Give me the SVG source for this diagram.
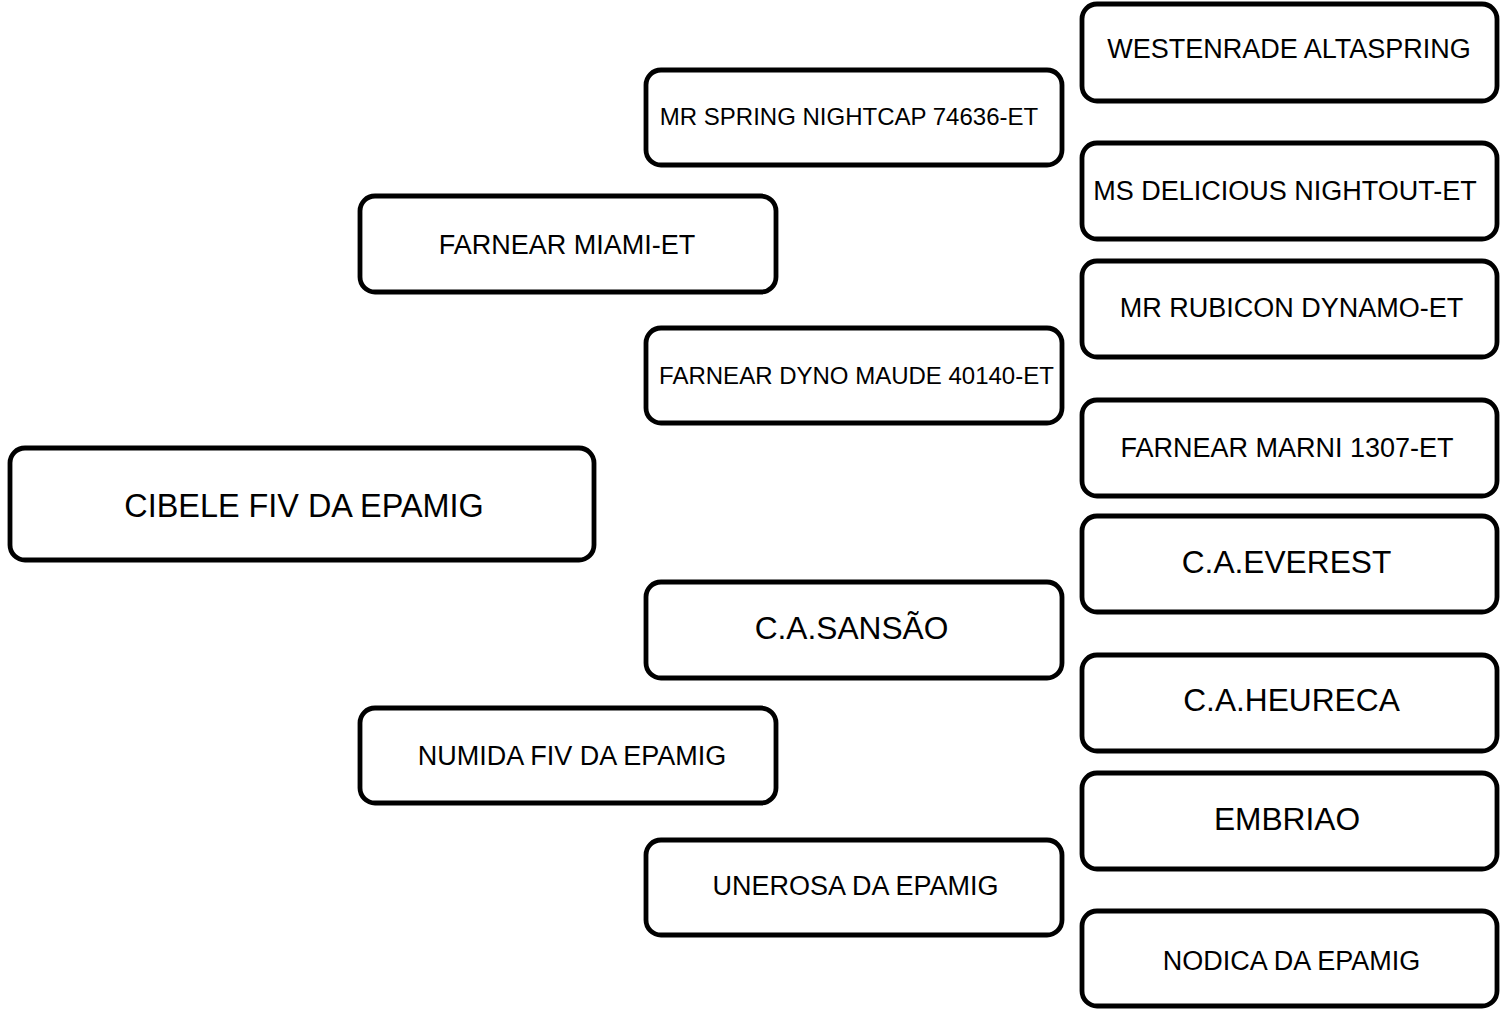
<svg xmlns="http://www.w3.org/2000/svg" width="1501" height="1009" viewBox="0 0 1501 1009">
<style>
.box{fill:#fff;stroke:#000;stroke-width:4.8}
text{font-family:"Liberation Sans",Arial,sans-serif;fill:#000;text-anchor:middle}
.s{font-size:27px}
.m{font-size:24px}
.l{font-size:31.7px}
.xl{font-size:32.4px}
</style>
<rect width="1501" height="1009" fill="#fff"/>
<g id="connectors"></g>
<g id="n-cibele"><rect class="box" x="10" y="448" width="584" height="112" rx="15"/><text class="xl" x="304" y="516.5">CIBELE FIV DA EPAMIG</text></g>
<g id="n-miami"><rect class="box" x="360" y="196" width="416" height="96" rx="15"/><text class="s" x="567" y="253.5">FARNEAR MIAMI-ET</text></g>
<g id="n-numida"><rect class="box" x="360" y="708" width="416" height="95" rx="15"/><text class="s" x="572" y="764.5">NUMIDA FIV DA EPAMIG</text></g>
<g id="n-nightcap"><rect class="box" x="646" y="70" width="416" height="95" rx="15"/><text class="m" x="849" y="124.6">MR SPRING NIGHTCAP 74636-ET</text></g>
<g id="n-dyno"><rect class="box" x="646" y="328" width="416" height="95" rx="15"/><text class="m" x="856.5" y="383.6">FARNEAR DYNO MAUDE 40140-ET</text></g>
<g id="n-sansao"><rect class="box" x="646" y="582" width="416" height="96" rx="15"/><text class="l" x="851.5" y="639.3">C.A.SANSÃO</text></g>
<g id="n-unerosa"><rect class="box" x="646" y="840" width="416" height="95" rx="15"/><text class="s" x="855.5" y="894.5">UNEROSA DA EPAMIG</text></g>
<g id="n-westenrade"><rect class="box" x="1082" y="4" width="415" height="97" rx="15"/><text class="s" x="1289" y="57.5">WESTENRADE ALTASPRING</text></g>
<g id="n-delicious"><rect class="box" x="1082" y="143" width="415" height="96" rx="15"/><text class="s" x="1285" y="199.5">MS DELICIOUS NIGHTOUT-ET</text></g>
<g id="n-rubicon"><rect class="box" x="1082" y="261" width="415" height="96" rx="15"/><text class="s" x="1291.5" y="316.5">MR RUBICON DYNAMO-ET</text></g>
<g id="n-marni"><rect class="box" x="1082" y="400" width="415" height="96" rx="15"/><text class="s" x="1287" y="456.5">FARNEAR MARNI 1307-ET</text></g>
<g id="n-everest"><rect class="box" x="1082" y="516" width="415" height="96" rx="15"/><text class="l" x="1286.5" y="573.3">C.A.EVEREST</text></g>
<g id="n-heureca"><rect class="box" x="1082" y="655" width="415" height="96" rx="15"/><text class="l" x="1291.5" y="711.3">C.A.HEURECA</text></g>
<g id="n-embriao"><rect class="box" x="1082" y="773" width="415" height="96" rx="15"/><text class="l" x="1287" y="830.3">EMBRIAO</text></g>
<g id="n-nodica"><rect class="box" x="1082" y="911" width="415" height="95" rx="15"/><text class="s" x="1291.5" y="969.5">NODICA DA EPAMIG</text></g>
</svg>
